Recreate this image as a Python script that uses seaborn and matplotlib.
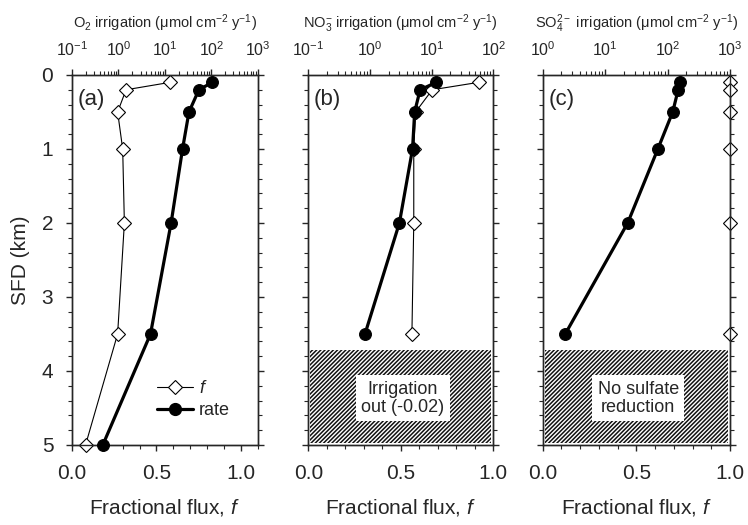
import matplotlib
matplotlib.use("Agg")
import matplotlib.pyplot as plt
import seaborn as sns
from matplotlib.ticker import MultipleLocator, LogLocator, NullFormatter, FixedLocator
from matplotlib.patches import Rectangle
from matplotlib.lines import Line2D

# =========================
# DATA
# =========================

o2_depth = [0.1, 0.2, 0.5, 1.0, 2.0, 3.5, 5.0]
o2_f = [0.58, 0.32, 0.27, 0.30, 0.31, 0.27, 0.08]
o2_rate = [105, 54, 33, 24, 13.6, 4.9, 0.46]

no3_depth = [0.1, 0.2, 0.5, 1.0, 2.0, 3.5]
no3_f = [0.92, 0.67, 0.58, 0.57, 0.57, 0.56]
no3_rate = [11.9, 6.5, 5.3, 4.9, 3.0, 0.83]

so4_depth = [0.1, 0.2, 0.5, 1.0, 2.0, 3.5]
so4_f = [1.0, 1.0, 1.0, 1.0, 1.0, 1.0]
so4_rate = [158, 148, 121, 70, 23, 2.3]

panel_letters = ["(a)", "(b)", "(c)"]
top_titles = [
    "O$_2$ irrigation (\u03bcmol cm$^{-2}$ y$^{-1}$)",
    "NO$_3^{-}$ irrigation (\u03bcmol cm$^{-2}$ y$^{-1}$)",
    "SO$_4^{2-}$ irrigation (\u03bcmol cm$^{-2}$ y$^{-1}$)",
]
top_limits = [(0.1, 1000), (0.1, 100), (1, 1000)]
bottom_limits = [(0, 1.1), (0, 1.0), (0, 1.0)]
depth_ticks = [0, 1, 2, 3, 4, 5]
box_texts = [None, "Irrigation\nout (-0.02)", "No sulfate\nreduction"]

# =========================
# STYLE
# =========================

sns.set_theme(style="ticks")
plt.rcParams["font.family"] = ["Liberation Sans", "DejaVu Sans"]
plt.rcParams["mathtext.fontset"] = "custom"
plt.rcParams["mathtext.rm"] = "Liberation Sans"
plt.rcParams["mathtext.it"] = "Liberation Sans:italic"
plt.rcParams["mathtext.default"] = "regular"
plt.rcParams["hatch.linewidth"] = 1.1
plt.rcParams["axes.linewidth"] = 1.0

fig = plt.figure(figsize=(7.48, 5.25), dpi=100)

positions = [
    [0.0963, 0.1524, 0.2483, 0.7048],
    [0.4122, 0.1524, 0.2473, 0.7048],
    [0.7255, 0.1524, 0.2504, 0.7048],
]

panels = [
    (o2_depth, o2_f, o2_rate),
    (no3_depth, no3_f, no3_rate),
    (so4_depth, so4_f, so4_rate),
]

for i, (depth, frac, rate) in enumerate(panels):
    ax = fig.add_axes(positions[i])
    ax2 = ax.twiny()

    # fractional flux f on the bottom axis
    sns.lineplot(x=frac, y=depth, ax=ax, sort=False, estimator=None, orient="y",
                 color="black", lw=0.8, marker="D", markersize=7.5,
                 markerfacecolor="white", markeredgecolor="black",
                 markeredgewidth=0.8, clip_on=False, zorder=3)

    # rate on the top log axis
    sns.lineplot(x=rate, y=depth, ax=ax2, sort=False, estimator=None, orient="y",
                 color="black", lw=2.3, marker="o", markersize=8.5,
                 markerfacecolor="black", markeredgecolor="black",
                 markeredgewidth=0.8, clip_on=False, zorder=4)

    ax.set_xlim(*bottom_limits[i])
    ax2.set_xscale("log")
    ax2.set_xlim(*top_limits[i])

    # hatched region + label box
    if box_texts[i] is not None:
        ax.add_patch(Rectangle((0.01, 3.71), 0.98, 1.26, facecolor="white",
                               edgecolor="#111111", lw=0, hatch="////////", zorder=1))
        ax.text(0.51, 4.37, box_texts[i], ha="center", va="center", fontsize=13,
                linespacing=1.05, zorder=2,
                bbox=dict(facecolor="white", edgecolor="none", pad=4))

    # bottom axis
    ax.xaxis.set_major_locator(FixedLocator([0, 0.5, 1.0]))
    ax.set_xticklabels(["0.0", "0.5", "1.0"])
    ax.xaxis.set_minor_locator(MultipleLocator(0.1))
    ax.set_xlabel("Fractional flux, $\\mathit{f}$", fontsize=15, labelpad=10)

    # y axis
    ax.set_yticks(depth_ticks)
    ax.yaxis.set_minor_locator(MultipleLocator(0.2))
    ax.set_ylim(5, 0)
    ax.tick_params(axis="both", which="major", direction="out", length=4.5,
                   width=1.0, labelsize=15, pad=9, left=True, right=True,
                   bottom=True, top=False)
    ax.tick_params(axis="both", which="minor", direction="out", length=3,
                   width=0.8, left=True, right=True, bottom=True, top=False)
    if i == 0:
        ax.set_yticklabels([str(t) for t in depth_ticks])
        ax.set_ylabel("SFD (km)", fontsize=15, labelpad=8)
    else:
        ax.set_yticklabels([])
        ax.set_ylabel("")

    # top log axis
    ax2.xaxis.set_major_locator(LogLocator(base=10, numticks=10))
    ax2.xaxis.set_minor_locator(LogLocator(base=10, subs=range(2, 10), numticks=20))
    ax2.xaxis.set_minor_formatter(NullFormatter())
    ax2.tick_params(axis="x", which="major", direction="out", length=4.5,
                    width=1.0, labelsize=11.5, pad=7)
    ax2.tick_params(axis="x", which="minor", direction="out", length=3, width=0.8)
    ax2.set_xlabel(top_titles[i], fontsize=10.5, labelpad=9)
    ax2.set_ylim(5, 0)

    ax.text(0.03, 0.935, panel_letters[i], transform=ax.transAxes, fontsize=16,
            ha="left", va="center", zorder=5)

    if i == 0:
        handles = [
            Line2D([], [], color="black", lw=0.8, marker="D", markersize=7.5,
                   markerfacecolor="white", markeredgecolor="black", markeredgewidth=0.8),
            Line2D([], [], color="black", lw=2.3, marker="o", markersize=8.5,
                   markerfacecolor="black", markeredgecolor="black"),
        ]
        ax2.legend(handles, ["$\\mathit{f}$", "rate"], frameon=False, fontsize=13,
                   loc="lower left", bbox_to_anchor=(0.42, 0.05), handlelength=2.0,
                   handletextpad=0.3, labelspacing=0.3, borderaxespad=0)

fig.savefig("out.png", dpi=100)
